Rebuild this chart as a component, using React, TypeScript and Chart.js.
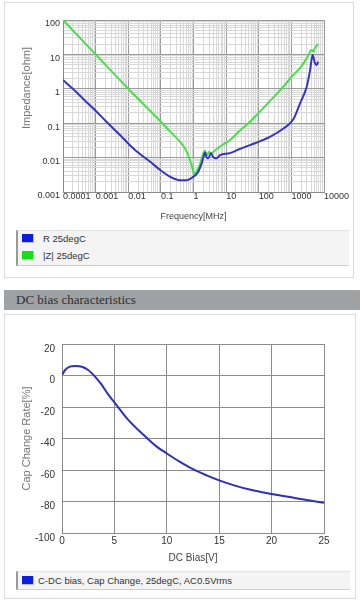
import React, { useEffect, useRef } from "react";
import { Chart, registerables } from "chart.js";
Chart.register(...registerables);

const FONT = '"Liberation Sans", Arial, sans-serif';

// ---- Impedance chart data (frequency in MHz) ----
const freqR = [0.0001, 0.0002, 0.0005, 0.001, 0.002, 0.005, 0.0113, 0.02, 0.047, 0.1, 0.19, 0.385, 0.6, 0.8, 1.0, 1.2, 1.4, 1.78, 2.1, 2.25, 2.54, 2.85, 3.4, 4.05, 5.1, 6.5, 13, 25, 54, 220, 570, 1150, 1850, 2950, 3750, 4460, 5300, 6000, 6600];
const valR = [1.8, 1.0, 0.43, 0.23, 0.118, 0.05, 0.023, 0.014, 0.0076, 0.0042, 0.0028, 0.0022, 0.0022, 0.0024, 0.0028, 0.0032, 0.0039, 0.0068, 0.0117, 0.014, 0.01, 0.0096, 0.0133, 0.0103, 0.0096, 0.0118, 0.0135, 0.0175, 0.023, 0.04, 0.07, 0.13, 0.38, 1.15, 3.5, 9.6, 5.5, 4.9, 6.2];

const freqZ = [0.0001, 0.001, 0.01, 0.1, 0.2, 0.385, 0.6, 0.78, 0.95, 1.06, 1.2, 1.4, 1.6, 1.78, 2.0, 2.25, 2.54, 3.0, 3.44, 5, 8, 13, 25, 54, 100, 200, 570, 1000, 2000, 3000, 4230, 4700, 5300, 6600];
const valZ = [100, 10, 1, 0.11, 0.055, 0.029, 0.016, 0.0085, 0.0045, 0.0031, 0.0038, 0.0049, 0.0068, 0.0096, 0.0133, 0.0158, 0.0117, 0.0146, 0.0133, 0.0175, 0.024, 0.032, 0.058, 0.11, 0.2, 0.4, 1.15, 2.2, 4.4, 8.0, 13.4, 12, 15.5, 20];

const xDecades = [0.0001, 0.001, 0.01, 0.1, 1, 10, 100, 1000, 10000];
const xDecadeLabels = ["0.0001", "0.001", "0.01", "0.1", "1", "10", "100", "1000", "10000"];
const yDecades = [0.001, 0.01, 0.1, 1, 10, 100];
const yDecadeLabels = ["0.001", "0.01", "0.1", "1", "10", "100"];
const minorSteps = [2, 3, 4, 5, 6, 7, 8, 9];

// ---- DC bias chart data ----
const biasV = [0, 0.3, 0.75, 1.25, 1.9, 2.5, 3.15, 3.8, 4.4, 5, 6.3, 7.75, 9, 10, 11.3, 12.5, 13.8, 15, 16.5, 18, 20, 22, 23.5, 25];
const biasPct = [0.3, 3.5, 5.6, 6.0, 5.6, 3.5, -0.7, -6, -12, -17, -28, -37.5, -45, -49.5, -55, -59.5, -63.4, -66.6, -69.9, -72.6, -75.2, -77.5, -79.2, -80.8];
const biasXTicks = [0, 5, 10, 15, 20, 25];
const biasYTicks = [20, 0, -20, -40, -60, -80, -100];

function logTicks(decs: number[]) {
  const out: number[] = [];
  decs.forEach((d, i) => {
    out.push(d);
    if (i < decs.length - 1) minorSteps.forEach((m) => out.push(d * m));
  });
  return out;
}
function decadeIndex(v: number, decs: number[]) {
  return decs.findIndex((d) => Math.abs(Math.log10(v / d)) < 1e-6);
}

const topYTitle = {
  id: "topYTitle",
  afterDraw(chart: any) {
    const ctx = chart.ctx;
    ctx.save();
    ctx.translate(23, 88);
    ctx.rotate(-Math.PI / 2);
    ctx.font = `11px ${FONT}`;
    ctx.fillStyle = "#777";
    ctx.textAlign = "center";
    ctx.textBaseline = "middle";
    ctx.fillText("Impedance[ohm]", 0, 0);
    ctx.restore();
  },
};

const legendBox: React.CSSProperties = {
  position: "absolute",
  background: "#f4f4f4",
  borderTop: "1px solid #e2e2e2",
  borderBottom: "1px solid #d0d0d0",
  borderLeft: "2px solid #9a9a9a",
  boxSizing: "border-box",
};
function Swatch({ color, top }: { color: string; top: number }) {
  return (
    <div
      style={{
        position: "absolute",
        left: 4,
        top,
        width: 12,
        height: 9,
        background: color,
        borderRight: "1px solid #b8c0d8",
        borderBottom: "1px solid #b8c0d8",
        boxSizing: "border-box",
      }}
    />
  );
}

export default function App() {
  const topRef = useRef<HTMLCanvasElement>(null);
  const botRef = useRef<HTMLCanvasElement>(null);

  useEffect(() => {
    Chart.defaults.font.family = FONT;
    const xTickVals = logTicks(xDecades);
    const yTickVals = logTicks(yDecades);
    const c1 = new Chart(topRef.current!, {
      type: "line",
      data: {
        datasets: [
          {
            label: "R 25degC",
            data: freqR.map((f, i) => ({ x: f, y: valR[i] })),
            borderColor: "#3535c2",
            borderWidth: 2,
            pointRadius: 0,
            cubicInterpolationMode: "monotone",
            fill: false,
          },
          {
            label: "|Z| 25degC",
            data: freqZ.map((f, i) => ({ x: f, y: valZ[i] })),
            borderColor: "#4ade4a",
            borderWidth: 2,
            pointRadius: 0,
            cubicInterpolationMode: "monotone",
            fill: false,
          },
        ],
      },
      options: {
        animation: false,
        responsive: false,
        devicePixelRatio: 1,
        layout: { padding: { left: 0, right: 30, top: 20, bottom: 0 } },
        plugins: { legend: { display: false }, tooltip: { enabled: false } },
        scales: {
          x: {
            type: "logarithmic",
            min: 0.0001,
            max: 10000,
            afterBuildTicks: (s: any) => {
              s.ticks = xTickVals.map((v) => ({ value: v }));
            },
            afterFit: (s: any) => {
              s.height = 36;
            },
            ticks: {
              autoSkip: false,
              maxRotation: 0,
              minRotation: 0,
              align: "start",
              padding: -1,
              color: "#333",
              font: { size: 9, family: FONT },
              callback: (v: any) => {
                const i = decadeIndex(Number(v), xDecades);
                return i >= 0 ? xDecadeLabels[i] : "";
              },
            },
            grid: {
              drawTicks: false,
              lineWidth: 1,
              color: (ctx: any) =>
                ctx.tick && decadeIndex(ctx.tick.value, xDecades) >= 0 ? "#9a9a9a" : "#d8d8d8",
            },
            border: { display: true, color: "#8a8a8a" },
            title: {
              display: true,
              text: "Frequency[MHz]",
              color: "#444",
              font: { size: 9, family: FONT },
              padding: { top: 0, bottom: 5.6 },
            },
          },
          y: {
            type: "logarithmic",
            min: 0.001,
            max: 100,
            afterBuildTicks: (s: any) => {
              s.ticks = yTickVals.map((v) => ({ value: v }));
            },
            afterFit: (s: any) => {
              s.width = 59;
            },
            ticks: {
              autoSkip: false,
              padding: 3,
              labelOffset: 4,
              color: "#333",
              font: { size: 9, family: FONT },
              callback: (v: any) => {
                const i = decadeIndex(Number(v), yDecades);
                return i >= 0 ? yDecadeLabels[i] : "";
              },
            },
            grid: {
              drawTicks: false,
              lineWidth: 1,
              color: (ctx: any) =>
                ctx.tick && decadeIndex(ctx.tick.value, yDecades) >= 0 ? "#9a9a9a" : "#d8d8d8",
            },
            border: { display: true, color: "#8a8a8a" },
          },
        },
      } as any,
      plugins: [topYTitle],
    });

    const c2 = new Chart(botRef.current!, {
      type: "line",
      data: {
        datasets: [
          {
            label: "C-DC bias, Cap Change, 25degC, AC0.5Vrms",
            data: biasV.map((v, i) => ({ x: v, y: biasPct[i] })),
            borderColor: "#2e2ebf",
            borderWidth: 2,
            pointRadius: 0,
            cubicInterpolationMode: "monotone",
            fill: false,
          },
        ],
      },
      options: {
        animation: false,
        responsive: false,
        devicePixelRatio: 1,
        layout: { padding: { left: 0, right: 30, top: 24, bottom: 0 } },
        plugins: { legend: { display: false }, tooltip: { enabled: false } },
        scales: {
          x: {
            type: "linear",
            min: 0,
            max: 25,
            afterBuildTicks: (s: any) => {
              s.ticks = biasXTicks.map((v) => ({ value: v }));
            },
            afterFit: (s: any) => {
              s.height = 37;
            },
            ticks: {
              autoSkip: false,
              maxRotation: 0,
              padding: 2,
              color: "#333",
              font: { size: 10, family: FONT },
            },
            grid: { drawTicks: false, color: "#8c8c8c", lineWidth: 1 },
            border: { display: true, color: "#8c8c8c" },
            title: {
              display: true,
              text: "DC Bias[V]",
              color: "#444",
              font: { size: 10, family: FONT },
              padding: { top: 0, bottom: 6 },
            },
          },
          y: {
            type: "linear",
            min: -100,
            max: 20,
            afterBuildTicks: (s: any) => {
              s.ticks = biasYTicks.map((v) => ({ value: v }));
            },
            afterFit: (s: any) => {
              s.width = 58;
            },
            ticks: {
              autoSkip: false,
              padding: 7,
              labelOffset: 5,
              color: "#333",
              font: { size: 10, family: FONT },
            },
            grid: { drawTicks: false, color: "#8c8c8c", lineWidth: 1 },
            border: { display: true, color: "#8c8c8c" },
            title: {
              display: true,
              text: "Cap Change Rate[%]",
              color: "#777",
              font: { size: 11, family: FONT },
              padding: { top: 16.4, bottom: 0 },
            },
          },
        },
      } as any,
    });

    return () => {
      c1.destroy();
      c2.destroy();
    };
  }, []);

  const textStyle: React.CSSProperties = {
    position: "absolute",
    fontFamily: FONT,
    fontSize: 9.5,
    color: "#333",
    whiteSpace: "nowrap",
    lineHeight: "12px",
  };

  return (
    <div
      style={{
        position: "absolute",
        left: 0,
        top: 0,
        width: 363,
        height: 600,
        background: "#ffffff",
        overflow: "hidden",
      }}
    >
      {/* top panel */}
      <div
        style={{
          position: "absolute",
          left: 4,
          top: 2,
          width: 350,
          height: 276,
          border: "1px solid #dcdcdc",
          boxSizing: "border-box",
          background: "#fff",
        }}
      />
      <canvas
        ref={topRef}
        width={350}
        height={228}
        style={{ position: "absolute", left: 4, top: 0, width: 350, height: 228 }}
      />
      <div style={{ ...legendBox, left: 16, top: 230, width: 333, height: 36 }}>
        <Swatch color="#0c1ce0" top={3} />
        <div style={{ ...textStyle, left: 25, top: 2 }}>R 25degC</div>
        <Swatch color="#12e012" top={20} />
        <div style={{ ...textStyle, left: 25, top: 19 }}>|Z| 25degC</div>
      </div>

      {/* header bar */}
      <div
        style={{
          position: "absolute",
          left: 4,
          top: 290,
          width: 356,
          height: 20,
          background: "#9ea2a4",
        }}
      >
        <div
          style={{
            position: "absolute",
            left: 12,
            top: 2,
            fontFamily: '"Liberation Serif", "DejaVu Serif", serif',
            fontSize: 13,
            lineHeight: "16px",
            color: "#2e2e2e",
            whiteSpace: "nowrap",
          }}
        >
          DC bias characteristics
        </div>
      </div>

      {/* bottom panel */}
      <div
        style={{
          position: "absolute",
          left: 4,
          top: 314,
          width: 352,
          height: 285,
          border: "1px solid #dcdcdc",
          boxSizing: "border-box",
          background: "#fff",
        }}
      />
      <canvas
        ref={botRef}
        width={350}
        height={250}
        style={{ position: "absolute", left: 4, top: 320, width: 350, height: 250 }}
      />
      <div style={{ ...legendBox, left: 16, top: 571, width: 334, height: 19 }}>
        <Swatch color="#0c1ce0" top={4} />
        <div style={{ ...textStyle, left: 20, top: 3 }}>
          C-DC bias, Cap Change, 25degC, AC0.5Vrms
        </div>
      </div>
    </div>
  );
}
